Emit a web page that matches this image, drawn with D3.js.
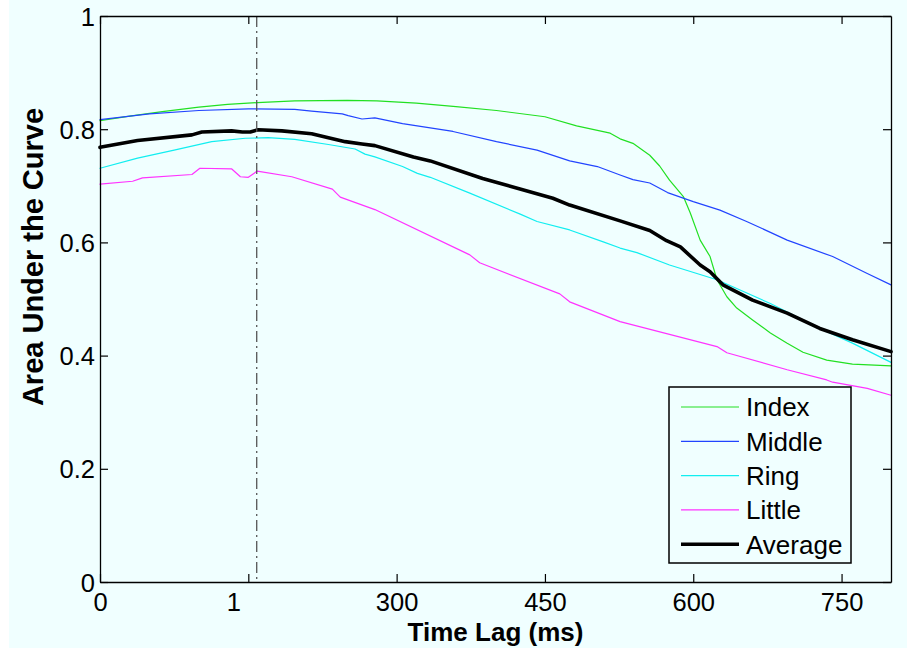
<!DOCTYPE html>
<html>
<head>
<meta charset="utf-8">
<script src="https://cdn.jsdelivr.net/npm/d3@7"></script>
<style>
  html, body { margin: 0; padding: 0; background: #ffffff; }
  svg { display: block; }
  text { font-family: "Liberation Sans", Arial, Helvetica, sans-serif; fill: #000; }
</style>
</head>
<body>
<svg id="chart" width="907" height="652"></svg>
<script>
// ---------- data ----------
const xTicks = [0, 150, 300, 450, 600, 750];
const xTickLabels = ["0", "1", "300", "450", "600", "750"];
const yTicks = [0, 0.2, 0.4, 0.6, 0.8, 1];
const yTickLabels = ["0", "0.2", "0.4", "0.6", "0.8", "1"];
const xDomain = [0, 800];
const yDomain = [0, 1];
const markerLag = 158.5;

const seriesNames = ["Index", "Middle", "Ring", "Little", "Average"];

const indexSeries = [[0,0.815],[30,0.823],[63,0.831],[100,0.839],[129,0.844],[159,0.847],[197,0.850],[250,0.851],[280,0.850],[320,0.846],[360,0.840],[401,0.833],[450,0.822],[482,0.806],[516,0.793],[526,0.783],[539,0.775],[556,0.754],[566,0.735],[576,0.710],[590,0.681],[597,0.652],[607,0.604],[617,0.575],[624,0.534],[634,0.504],[644,0.484],[660,0.463],[678,0.440],[695,0.422],[711,0.406],[735,0.392],[761,0.385],[800,0.382]];
const middleSeries = [[0,0.817],[50,0.827],[100,0.833],[150,0.836],[197,0.835],[214,0.832],[245,0.827],[251,0.824],[265,0.818],[278,0.820],[306,0.810],[357,0.796],[401,0.778],[442,0.763],[475,0.744],[503,0.734],[526,0.719],[539,0.711],[556,0.705],[574,0.688],[600,0.672],[627,0.657],[654,0.637],[695,0.604],[741,0.575],[776,0.545],[800,0.525]];
const ringSeries = [[0,0.731],[38,0.749],[75,0.763],[113,0.778],[147,0.784],[170,0.785],[197,0.782],[231,0.773],[258,0.765],[268,0.756],[278,0.751],[306,0.734],[321,0.722],[334,0.715],[374,0.687],[425,0.650],[442,0.637],[475,0.622],[509,0.601],[526,0.590],[543,0.582],[576,0.560],[624,0.534],[678,0.492],[728,0.448],[761,0.422],[800,0.388]];
const littleSeries = [[0,0.703],[33,0.708],[43,0.714],[93,0.720],[101,0.731],[133,0.730],[142,0.716],[150,0.715],[159,0.726],[194,0.716],[235,0.694],[243,0.680],[278,0.658],[374,0.578],[384,0.564],[465,0.509],[475,0.495],[526,0.460],[624,0.416],[634,0.405],[695,0.375],[735,0.357],[741,0.353],[776,0.342],[800,0.330]];
const averageSeries = [[0,0.768],[38,0.780],[93,0.790],[103,0.795],[133,0.797],[144,0.795],[152,0.795],[160,0.799],[184,0.797],[214,0.792],[248,0.778],[265,0.774],[278,0.771],[317,0.751],[334,0.744],[387,0.713],[458,0.678],[475,0.666],[526,0.638],[556,0.621],[573,0.603],[587,0.592],[607,0.560],[617,0.548],[630,0.525],[660,0.498],[695,0.475],[728,0.448],[761,0.428],[800,0.407]];

const seriesData = [indexSeries, middleSeries, ringSeries, littleSeries, averageSeries];
const seriesColors = ["#22e022", "#2244ff", "#11eef0", "#ff33ff", "#000000"];
const seriesWidths = [1.2, 1.2, 1.2, 1.2, 3.6];

// ---------- layout ----------
const W = 907, H = 652;
const plot = { left: 100, right: 891, top: 16, bottom: 582 };
const bg = "#f0ffff";

const svg = d3.select("#chart");
svg.append("rect").attr("x", 9).attr("y", 0).attr("width", W - 9).attr("height", 648).attr("fill", bg);

const x = d3.scaleLinear().domain(xDomain).range([plot.left, plot.right]);
const y = d3.scaleLinear().domain(yDomain).range([plot.bottom, plot.top]);

// plot background
svg.append("rect").attr("x", plot.left).attr("y", plot.top)
  .attr("width", plot.right - plot.left).attr("height", plot.bottom - plot.top)
  .attr("fill", bg);

// lines
const line = d3.line().x(d => x(d[0])).y(d => y(d[1]));
const linesG = svg.append("g");
seriesData.forEach((s, i) => {
  linesG.append("path").datum(s)
    .attr("d", line)
    .attr("fill", "none")
    .attr("stroke", seriesColors[i])
    .attr("stroke-width", seriesWidths[i])
    .attr("stroke-linejoin", "round")
    .attr("stroke-linecap", "round");
});

// dash-dot vertical marker
svg.append("line")
  .attr("x1", x(markerLag)).attr("x2", x(markerLag))
  .attr("y1", y(1)).attr("y2", y(0))
  .attr("stroke", "#555555").attr("stroke-width", 1.3)
  .attr("stroke-dasharray", "11,4,2,4");

// axes
const fontTick = 25.5;
const tickLen = 8;
const xAxisB = d3.axisBottom(x).tickValues(xTicks)
  .tickFormat((d, i) => xTickLabels[i]).tickSizeInner(-tickLen).tickSizeOuter(0).tickPadding(11);
const xAxisT = d3.axisTop(x).tickValues(xTicks).tickFormat("").tickSizeInner(-tickLen).tickSizeOuter(0);
const yAxisL = d3.axisLeft(y).tickValues(yTicks)
  .tickFormat((d, i) => yTickLabels[i]).tickSizeInner(-tickLen).tickSizeOuter(0).tickPadding(5);
const yAxisR = d3.axisRight(y).tickValues(yTicks).tickFormat("").tickSizeInner(-tickLen).tickSizeOuter(0);

function styleAxis(g) {
  g.select(".domain").attr("stroke", "#000").attr("stroke-width", 1.3);
  g.selectAll(".tick line").attr("stroke", "#000").attr("stroke-width", 1.2);
  g.selectAll(".tick text").style("font-size", fontTick + "px")
    .style("font-family", '"Liberation Sans", Arial, Helvetica, sans-serif').attr("fill", "#000");
}
const gxB = svg.append("g").attr("transform", `translate(0,${plot.bottom})`).call(xAxisB).call(styleAxis);
gxB.selectAll(".tick text").attr("dy", "0.71em").attr("dx", (d, i) => xTickLabels[i] === "1" ? -15 : 0);
svg.append("g").attr("transform", `translate(0,${plot.top})`).call(xAxisT).call(styleAxis);
const gyL = svg.append("g").attr("transform", `translate(${plot.left},0)`).call(yAxisL).call(styleAxis);
gyL.selectAll(".tick text").attr("dy", "0.36em");
svg.append("g").attr("transform", `translate(${plot.right},0)`).call(yAxisR).call(styleAxis);

// axis labels
svg.append("text")
  .attr("x", (plot.left + plot.right) / 2).attr("y", 641)
  .attr("text-anchor", "middle").style("font-size", "26px").style("font-weight", "bold")
  .text("Time Lag (ms)");
svg.append("text")
  .attr("transform", `translate(43,${(plot.top + plot.bottom) / 2 - 42}) rotate(-90)`)
  .attr("text-anchor", "middle").style("font-size", "29px").style("font-weight", "bold")
  .text("Area Under the Curve");

// legend
const leg = { x: 669, y: 387, w: 182, h: 176, rowH: 34.3, first: 407 };
const lg = svg.append("g");
lg.append("rect").attr("x", leg.x).attr("y", leg.y).attr("width", leg.w).attr("height", leg.h)
  .attr("fill", bg).attr("stroke", "#000").attr("stroke-width", 1.5);
seriesNames.forEach((name, i) => {
  const yy = leg.first + i * leg.rowH;
  lg.append("line").attr("x1", 681).attr("x2", 739).attr("y1", yy).attr("y2", yy)
    .attr("stroke", seriesColors[i]).attr("stroke-width", seriesWidths[i]);
  lg.append("text").attr("x", 746).attr("y", yy).attr("dy", "0.36em")
    .style("font-size", "26px").text(name);
});
</script>
</body>
</html>
